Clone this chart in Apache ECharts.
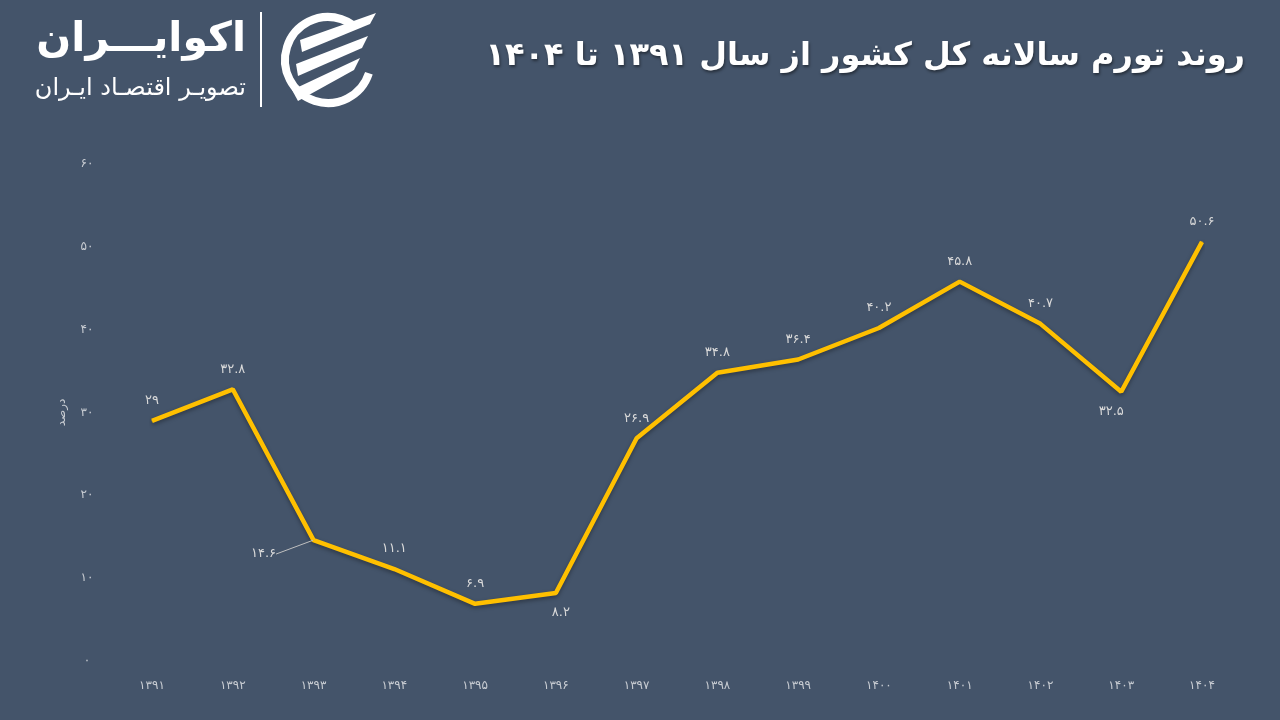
<!DOCTYPE html>
<html><head><meta charset="utf-8">
<script src="https://cdn.jsdelivr.net/npm/echarts@6/dist/echarts.min.js"></script>
<style>html,body{margin:0;padding:0;background:#44546A;}#c{width:1280px;height:720px;}</style>
</head><body><div id="c"></div>
<script>
const years = ['1391','1392','1393','1394','1395','1396','1397','1398','1399','1400','1401','1402','1403','1404'];
const inflation = [29, 32.8, 14.6, 11.1, 6.9, 8.2, 26.9, 34.8, 36.4, 40.2, 45.8, 40.7, 32.5, 50.6];
const labelPos = ['top','top','left','top','top','bottom','top','top','top','top','top','top','bottom','top'];
const titleText = 'روند تورم سالانه کل کشور از سال ۱۳۹۱ تا ۱۴۰۴';
const yAxisName = 'درصد';
const logoText = 'اکوایـــران';
const logoSub = 'تصویـر اقتصـاد ایـران';

const FA = '۰۱۲۳۴۵۶۷۸۹';
function toFa(v){ return String(v).replace(/[0-9]/g, d => FA[+d]); }
const FONT = '"DejaVu Sans", "Noto Sans", sans-serif';

const chart = echarts.init(document.getElementById('c'));
const seriesData = inflation.map((v,i) => {
  const item = { value: v, label: { position: labelPos[i] } };
  if (i === 2) {
    item.labelLine = { show: true, lineStyle: { color: '#BFBFBF', width: 1 } };
  }
  return item;
});

chart.setOption({
  backgroundColor: '#44546A',
  textStyle: { fontFamily: FONT },
  title: {
    text: titleText, right: 30, top: 36,
    textStyle: { color: '#FFFFFF', fontSize: 32, fontWeight: 'bold', fontFamily: FONT,
      textShadowColor: 'rgba(0,0,0,0.45)', textShadowBlur: 3, textShadowOffsetX: 1, textShadowOffsetY: 2 }
  },
  grid: { left: 152, right: 78, top: 164, bottom: 59, containLabel: false },
  xAxis: {
    type: 'category', data: years, boundaryGap: false,
    axisLine: { show: false }, axisTick: { show: false }, splitLine: { show: false },
    axisLabel: { color: '#C8CCD2', fontSize: 12, margin: 19, formatter: v => toFa(v) }
  },
  yAxis: {
    type: 'value', min: 0, max: 60, interval: 10,
    name: yAxisName, nameLocation: 'middle', nameRotate: 90, nameGap: 84,
    nameTextStyle: { color: '#C8CCD2', fontSize: 12 },
    axisLine: { show: false }, axisTick: { show: false }, splitLine: { show: false },
    axisLabel: { color: '#C8CCD2', fontSize: 12, margin: 65, align: 'center', formatter: v => toFa(v) }
  },
  series: [{
    type: 'line', data: seriesData, showSymbol: true, symbol: 'circle', symbolSize: 1,
    itemStyle: { color: '#FFC000' },
    lineStyle: { color: '#FFC000', width: 4.5, shadowColor: 'rgba(0,0,0,0.35)', shadowBlur: 4, shadowOffsetY: 2 },
    label: { show: true, distance: 13, color: '#D9D9D9', fontSize: 13, formatter: p => toFa(p.value) },
    labelLayout: function (params) {
      if (params.dataIndex === 2) return { dx: -24, dy: 14 };
      if (params.dataIndex === 12) return { dx: -10 };
      if (params.dataIndex === 5) return { dx: 5 };
      return {};
    },
    animation: false
  }],
  graphic: [
    { type: 'text', x: 246, y: 20, style: { text: logoText, fill: '#FFFFFF', font: 'bold 41px ' + FONT, textAlign: 'right' } },
    { type: 'text', x: 246, y: 77, style: { text: logoSub, fill: '#FFFFFF', font: '24px ' + FONT, textAlign: 'right' } },
    { type: 'line', shape: { x1: 261, y1: 12, x2: 261, y2: 107 }, style: { stroke: '#FFFFFF', lineWidth: 2 } },
    { type: 'arc', shape: { cx: 328, cy: 60, r: 43, startAngle: Math.PI * 0.1, endAngle: Math.PI * 1.7, clockwise: true },
      style: { stroke: '#FFFFFF', lineWidth: 8, fill: null } },
    { type: 'polygon', shape: { points: [[300,40],[376,13],[370,24],[302,52]] }, style: { fill: '#FFFFFF' } },
    { type: 'polygon', shape: { points: [[296,64],[368,36],[362,48],[298,76]] }, style: { fill: '#FFFFFF' } },
    { type: 'polygon', shape: { points: [[292,90],[360,58],[354,70],[298,101]] }, style: { fill: '#FFFFFF' } }
  ]
});
</script></body></html>
